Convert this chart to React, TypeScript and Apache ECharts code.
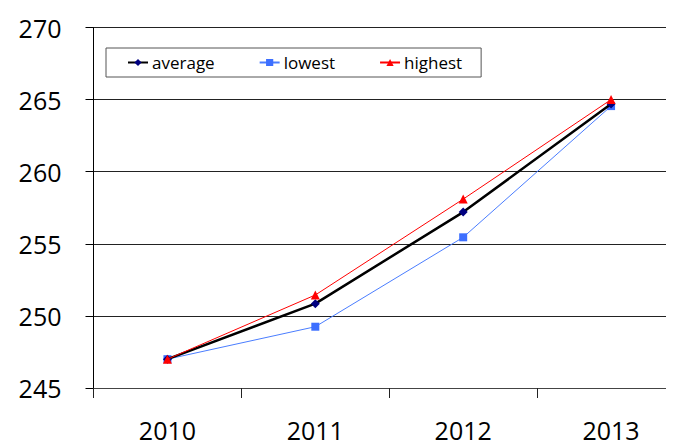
import { useEffect, useRef } from "react";
import * as echarts from "echarts";

const years = ["2010", "2011", "2012", "2013"];
const average = [247.0, 250.85, 257.2, 264.7];
const lowest = [247.0, 249.25, 255.45, 264.55];
const highest = [247.0, 251.45, 258.1, 265.0];

const FONT = "'Open Sans', sans-serif";

export default function App() {
  const ref = useRef<HTMLDivElement>(null);

  useEffect(() => {
    if (!ref.current) return;
    const chart = echarts.init(ref.current, undefined, { renderer: "svg" });
    chart.setOption({
      animation: false,
      backgroundColor: "#fff",
      textStyle: { fontFamily: FONT },
      // the plot runs past the right edge of the picture, so the chart div is wider than the frame
      grid: { left: 93.5, right: 0, top: 27.5, bottom: 52.5 },
      legend: {
        left: 106,
        top: 48,
        padding: [6, 19, 6, 21],
        borderColor: "#555",
        borderWidth: 1,
        itemGap: 44,
        itemWidth: 20,
        itemHeight: 9,
        textStyle: { fontSize: 17, color: "#000", fontFamily: FONT, padding: [0, 0, 0, -1] },
        data: ["average", "lowest", "highest"],
      },
      xAxis: {
        type: "category",
        data: years,
        boundaryGap: true,
        axisLine: { lineStyle: { color: "#444", width: 1 } },
        axisTick: { show: true, length: 10, lineStyle: { color: "#222" } },
        axisLabel: { fontSize: 25, color: "#000", margin: 29, fontFamily: FONT },
      },
      yAxis: {
        type: "value",
        min: 245,
        max: 270,
        interval: 5,
        axisLine: { show: true, lineStyle: { color: "#000", width: 1 } },
        axisTick: { show: true, length: 8, lineStyle: { color: "#000" } },
        axisLabel: { fontSize: 25, color: "#000", margin: 32, fontFamily: FONT },
        splitLine: { show: true, lineStyle: { color: "#222", width: 1 } },
      },
      series: [
        {
          name: "average",
          type: "line",
          data: average,
          symbol: "diamond",
          symbolSize: 9,
          z: 3,
          lineStyle: { color: "#000", width: 2.5 },
          itemStyle: { color: "#000080" },
        },
        {
          name: "lowest",
          type: "line",
          data: lowest,
          symbol: "rect",
          symbolSize: 8,
          z: 2,
          lineStyle: { color: "#4a7dff", width: 1 },
          itemStyle: { color: "#3d6fff" },
        },
        {
          name: "highest",
          type: "line",
          data: highest,
          symbol: "triangle",
          symbolSize: 9,
          z: 4,
          lineStyle: { color: "#ff0000", width: 1 },
          itemStyle: { color: "#ff0000" },
        },
      ],
    });
    return () => chart.dispose();
  }, []);

  return (
    <div style={{ width: 674, height: 442, overflow: "hidden", marginTop: -8, marginLeft: -8, background: "#fff" }}>
      <div ref={ref} style={{ width: 685, height: 442 }} />
    </div>
  );
}
